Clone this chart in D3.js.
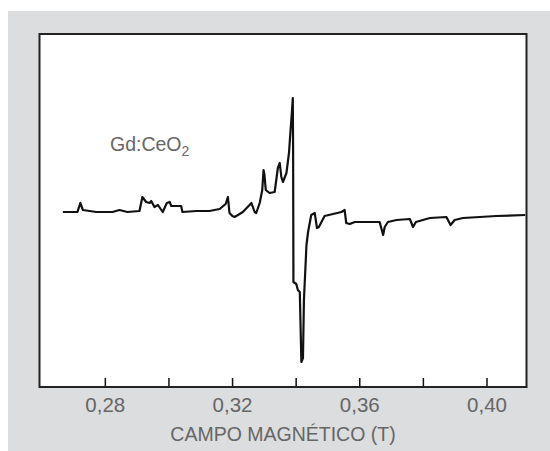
<!DOCTYPE html>
<html>
<head>
<meta charset="utf-8">
<script src="https://cdn.jsdelivr.net/npm/d3@7"></script>
<style>
  body { margin: 0; background: #fff; }
  text { font-family: "Liberation Sans", Arial, sans-serif; }
</style>
</head>
<body>
<div id="chart"></div>
<script>
// EPR spectrum (field in T, intensity in arbitrary units)
const field = [0.2668, 0.2714, 0.2723, 0.2731, 0.2752, 0.2773, 0.2824, 0.2846, 0.2871, 0.2909,
  0.2918, 0.2930, 0.2941, 0.2946, 0.2956, 0.2967, 0.2982, 0.2995, 0.3004, 0.3009,
  0.3040, 0.3044, 0.3088, 0.3129, 0.3161, 0.3180, 0.3187, 0.3192, 0.3201, 0.3208,
  0.3234, 0.3261, 0.3271, 0.3276, 0.3287, 0.3295, 0.3299, 0.3302, 0.3306, 0.3318,
  0.3334, 0.3344, 0.3350, 0.3355, 0.3360, 0.3371, 0.3379, 0.3384, 0.3388, 0.3391,
  0.3392, 0.3393, 0.3402, 0.3407, 0.3413, 0.3418, 0.3423, 0.3426, 0.3434, 0.3439,
  0.3449, 0.3460, 0.3467, 0.3473, 0.3491, 0.3544, 0.3554, 0.3559, 0.3570, 0.3586,
  0.3664, 0.3675, 0.3680, 0.3690, 0.3717, 0.3759, 0.3769, 0.3778, 0.3822, 0.3874,
  0.3887, 0.3900, 0.3926, 0.3979, 0.4031, 0.4122];
const signal = [0.00, 0.00, 0.09, 0.02, 0.01, 0.00, 0.00, 0.02, 0.00, 0.01,
  0.15, 0.10, 0.09, 0.11, 0.05, 0.07, 0.00, 0.09, 0.10, 0.06,
  0.06, 0.00, 0.01, 0.01, 0.03, 0.08, 0.15, -0.01, -0.04, -0.05,
  0.00, 0.09, 0.00, -0.01, 0.09, 0.22, 0.42, 0.37, 0.22, 0.19,
  0.20, 0.44, 0.49, 0.35, 0.30, 0.39, 0.59, 0.82, 0.99, 1.14,
  0.62, -0.70, -0.72, -0.78, -0.80, -1.50, -1.46, -0.88, -0.33, -0.20,
  -0.03, -0.01, -0.16, -0.15, -0.04, 0.00, 0.02, -0.11, -0.12, -0.10,
  -0.10, -0.23, -0.15, -0.10, -0.08, -0.07, -0.15, -0.10, -0.06, -0.05,
  -0.13, -0.08, -0.06, -0.05, -0.04, -0.03];

const tickValues = [0.28, 0.30, 0.32, 0.34, 0.36, 0.38, 0.40];
const tickLabels = ["0,28", "", "0,32", "", "0,36", "", "0,40"];
const xTitle = "CAMPO MAGNÉTICO (T)";

const width = 550, height = 451;
const box = {left: 39.5, top: 34, right: 526.5, bottom: 387};

const svg = d3.select("#chart")
  .append("svg")
  .attr("width", width)
  .attr("height", height);

// grey panel behind the plot
svg.append("rect")
  .attr("x", 8).attr("y", 11)
  .attr("width", width - 8).attr("height", height - 11)
  .attr("fill", "#dcdddf");

svg.append("rect")
  .attr("x", box.left).attr("y", box.top)
  .attr("width", box.right - box.left).attr("height", box.bottom - box.top)
  .attr("fill", "#fff");

const x = d3.scaleLinear().domain([0.25946, 0.41258]).range([box.left, box.right]);
const y = d3.scaleLinear().domain([-1.75, 1.78]).range([box.bottom, box.top]);

// ticks point inward, labels only every other tick
const xAxis = d3.axisBottom(x)
  .tickValues(tickValues)
  .tickSizeInner(-9)
  .tickSizeOuter(0)
  .tickFormat((d, i) => tickLabels[i]);

const gx = svg.append("g")
  .attr("transform", "translate(0," + box.bottom + ")")
  .call(xAxis);
gx.select(".domain").remove();
gx.selectAll(".tick line").attr("stroke", "#111").attr("stroke-width", 1.5);
gx.selectAll(".tick text")
  .attr("y", 25.3).attr("dy", 0)
  .attr("fill", "#666")
  .style("font-size", "20.5px")
  .style("font-family", "'Liberation Sans', Arial, sans-serif");

const line = d3.line()
  .x((d, i) => x(field[i]))
  .y(d => y(d));

svg.append("path")
  .datum(signal)
  .attr("d", line)
  .attr("fill", "none")
  .attr("stroke", "#111")
  .attr("stroke-width", 2.2)
  .attr("stroke-linejoin", "round");

// frame on top of everything
svg.append("rect")
  .attr("x", box.left).attr("y", box.top)
  .attr("width", box.right - box.left).attr("height", box.bottom - box.top)
  .attr("fill", "none")
  .attr("stroke", "#222")
  .attr("stroke-width", 2);

svg.append("text")
  .attr("x", (box.left + box.right) / 2)
  .attr("y", 440.7)
  .attr("text-anchor", "middle")
  .attr("fill", "#666")
  .style("font-size", "19.5px")
  .text(xTitle);

// sample label with subscript
const lbl = svg.append("text")
  .attr("x", 110)
  .attr("y", 151)
  .attr("fill", "#666")
  .style("font-size", "19.5px");
lbl.append("tspan").text("Gd:CeO");
lbl.append("tspan").attr("dy", 4.5).style("font-size", "14px").text("2");
</script>
</body>
</html>
